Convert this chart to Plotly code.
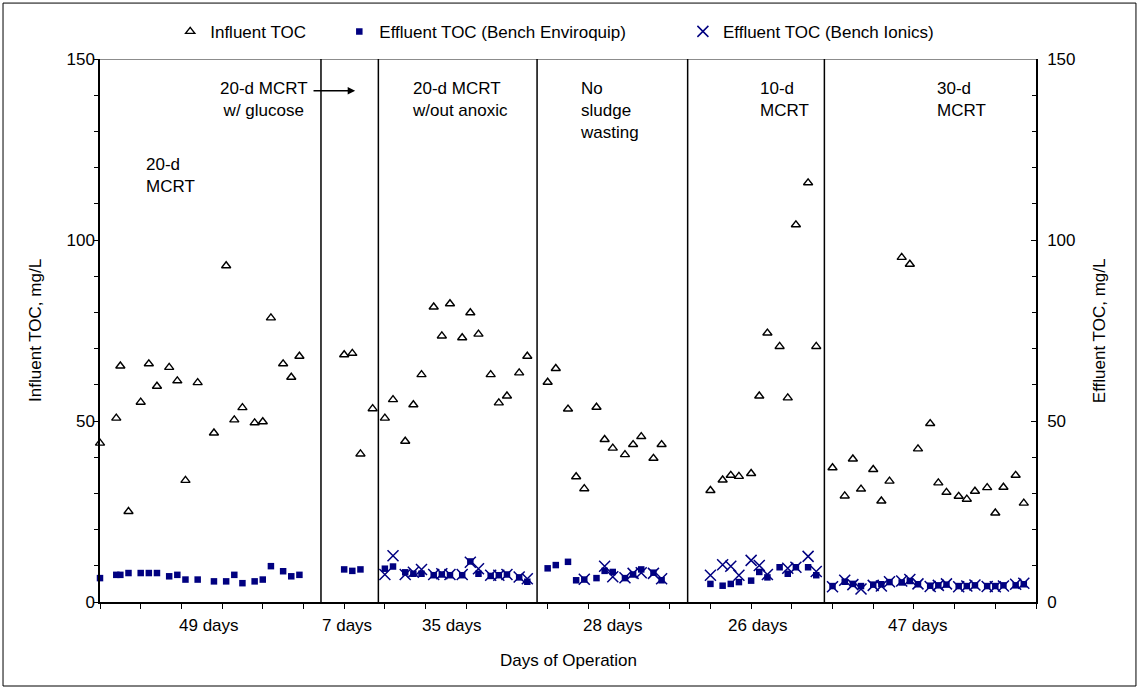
import plotly.graph_objects as go

# Sampling day of each measurement
days = [0, 4, 5, 7, 10, 12, 14, 17, 19, 21, 24, 28, 31, 33, 35, 38, 40, 42, 45, 47, 49,
        60, 62, 64, 67,
        70, 72, 75, 77, 79, 82, 84, 86, 89, 91, 93, 96, 98, 100, 103, 105,
        110, 112, 115, 117, 119, 122, 124, 126, 129, 131, 133, 136, 138,
        150, 153, 155, 157, 160, 162, 164, 167, 169, 171, 174, 176,
        180, 183, 185, 187, 190, 192, 194, 197, 199, 201, 204, 206, 208, 211, 213, 215,
        218, 220, 222, 225, 227]

# Influent TOC, mg/L
influent_toc = [43.9, 50.8, 65.2, 25.0, 55.2, 65.8, 59.6, 64.8, 61.1, 33.6, 60.6, 46.7, 92.9,
                50.3, 53.7, 49.5, 49.8, 78.5, 65.8, 62.1, 67.9,
                68.3, 68.7, 40.9, 53.4,
                50.8, 55.9, 44.4, 54.5, 62.8, 81.5, 73.5, 82.4, 73.0, 79.9, 74.0, 62.8, 55.0,
                56.9, 63.3, 67.9,
                60.7, 64.5, 53.3, 34.6, 31.3, 53.8, 44.9, 42.5, 40.7, 43.5, 45.7, 39.7, 43.5,
                30.8, 33.7, 35.0, 34.7, 35.5, 56.9, 74.3, 70.6, 56.4, 104.2, 115.8, 70.6,
                37.1, 29.3, 39.5, 31.2, 36.6, 27.9, 33.4, 95.2, 93.3, 42.3, 49.3, 32.9, 30.3,
                29.2, 28.4, 30.6, 31.6, 24.6, 31.7, 35.0, 27.3]

# Effluent TOC, Bench Enviroquip, mg/L
enviroquip_toc = [6.6, 7.5, 7.5, 8.0, 8.0, 8.0, 8.0, 7.1, 7.5, 6.2, 6.2, 5.7, 5.7, 7.5, 5.2,
                  5.7, 6.2, 9.9, 8.5, 7.1, 7.5,
                  9.0, 8.6, 9.0, None,
                  9.2, 9.8, 8.2, 7.8, 7.8, 7.4, 7.6, 7.4, 7.4, 11.2, 7.8, 7.2, 7.4, 7.6, 6.8, 5.6,
                  9.3, 10.2, 11.1, 6.0, 6.2, 6.6, 8.6, 8.3, 6.6, 7.6, 9.0, 8.1, 6.0,
                  5.0, 4.5, 5.0, 5.5, 5.9, 8.3, 6.8, 9.6, 7.8, 9.6, 9.6, 7.4,
                  4.4, 5.6, 5.0, 4.4, 4.8, 4.9, 5.5, 5.4, 5.8, 4.9, 4.5, 4.6, 4.8, 4.4, 4.4,
                  4.6, 4.4, 4.4, 4.6, 4.6, 4.9]

# Effluent TOC, Bench Ionics, mg/L
ionics_toc = [None] * 21 + [None] * 4 + [
    7.6, 12.8, 7.6, 8.2, 9.0, 7.6, 7.8, 7.6, 7.6, 11.0, 9.2, 7.4, 7.4, 7.6, 6.9, 6.4,
    None, None, None, None, 6.3, None, 9.9, 7.0, 6.7, 7.9, 8.1, 7.9, 6.4,
    7.4, 10.3, 9.9, 7.4, 11.5, 10.1, 7.6, None, 9.3, 9.6, 12.6, 8.4,
    4.2, 6.0, 4.8, 3.6, 4.6, 4.4, 5.6, 5.8, 6.2, 5.0, 4.3, 4.6, 5.0, 4.2, 4.4, 4.7,
    4.3, 4.2, 4.4, 4.9, 5.2]

# Boundaries between operating phases (day)
phase_bounds = [54.3, 68.4, 107.4, 144.4, 178.0]

# Phase descriptions: (text, x, top y, anchor)
phase_notes = [
    ("20-d<br>MCRT", 10.8, 124.0, "left"),
    ("20-d MCRT<br>w/ glucose", 40.3, 145.0, "center"),
    ("20-d MCRT<br>w/out anoxic", 76.2, 145.0, "left"),
    ("No<br>sludge<br>wasting", 117.5, 145.0, "left"),
    ("10-d<br>MCRT", 161.6, 145.0, "left"),
    ("30-d<br>MCRT", 205.3, 145.0, "left"),
]

# Phase durations written below the axis
duration_labels = ["49 days", "7 days", "35 days", "28 days", "26 days", "47 days"]
duration_x = [26.8, 60.7, 86.5, 126.0, 161.7, 201.0]

FONT = "Liberation Sans, Arial, sans-serif"
NAVY = "#000080"
X_MAX = 230
Y_MAX = 150
NBSP = "\u00a0"

fig = go.Figure()

fig.add_trace(go.Scatter(
    x=days, y=influent_toc, mode="markers", name="Influent TOC" + NBSP * 6,
    marker=dict(symbol="triangle-up-open", size=8, color="black", line=dict(width=1.4, color="black")),
    cliponaxis=False,
))
fig.add_trace(go.Scatter(
    x=days, y=enviroquip_toc, mode="markers", name="Effluent TOC (Bench Enviroquip)" + NBSP * 11,
    marker=dict(symbol="square", size=6.5, color=NAVY),
    yaxis="y2", cliponaxis=False,
))
fig.add_trace(go.Scatter(
    x=days, y=ionics_toc, mode="markers", name="Effluent TOC (Bench Ionics)",
    marker=dict(symbol="x-thin-open", size=11, color=NAVY, line=dict(width=1.5, color=NAVY)),
    yaxis="y2", cliponaxis=False,
))

shapes = []
# gray top edge of plot area
shapes.append(dict(type="line", xref="x", yref="y", x0=0, x1=X_MAX, y0=Y_MAX, y1=Y_MAX,
                   line=dict(color="#8c8c8c", width=2)))
# phase separators
for b in phase_bounds:
    shapes.append(dict(type="line", xref="x", yref="y", x0=b, x1=b, y0=0, y1=Y_MAX,
                       line=dict(color="black", width=1.5)))
# outer frame around the whole chart
shapes.append(dict(type="rect", xref="paper", yref="paper",
                   x0=-0.1036, x1=1.1068, y0=-0.1547, y1=1.103,
                   line=dict(color="black", width=1)))

annotations = []
for text, x, y, anchor in phase_notes:
    annotations.append(dict(text=text, x=x, y=y, xref="x", yref="y", xanchor=anchor,
                            yanchor="top", align=anchor,
                            showarrow=False, font=dict(family=FONT, size=17, color="black")))
# arrow pointing into the glucose phase
annotations.append(dict(x=62.7, y=141.2, ax=52.1, ay=141.2, xref="x", yref="y",
                        axref="x", ayref="y", text="", showarrow=True, arrowhead=2,
                        arrowsize=1, arrowwidth=1.5, arrowcolor="black"))
for lbl, x in zip(duration_labels, duration_x):
    annotations.append(dict(text=lbl, x=x, y=-0.0424, xref="x", yref="paper",
                            xanchor="center", yanchor="middle", showarrow=False,
                            font=dict(family=FONT, size=17, color="black")))
annotations.append(dict(text="Days of Operation", x=0.5, y=-0.107, xref="paper", yref="paper",
                        xanchor="center", yanchor="middle", showarrow=False,
                        font=dict(family=FONT, size=17, color="black")))
annotations.append(dict(text="Influent TOC, mg/L", x=-0.069, y=0.5, xref="paper", yref="paper",
                        textangle=-90, xanchor="center", yanchor="middle", showarrow=False,
                        font=dict(family=FONT, size=17, color="black")))
annotations.append(dict(text="Effluent TOC, mg/L", x=1.068, y=0.5, xref="paper", yref="paper",
                        textangle=-90, xanchor="center", yanchor="middle", showarrow=False,
                        font=dict(family=FONT, size=17, color="black")))

axis_font = dict(family=FONT, size=17, color="black")

fig.update_layout(
    width=1139, height=689,
    margin=dict(l=100, r=103, t=59, b=87, autoexpand=False),
    paper_bgcolor="white", plot_bgcolor="white",
    font=dict(family=FONT, size=17, color="black"),
    showlegend=True,
    legend=dict(orientation="h", x=0.075, y=1.05, xanchor="left", yanchor="middle",
                font=dict(family=FONT, size=17, color="black"), bgcolor="rgba(0,0,0,0)",
                itemsizing="trace"),
    xaxis=dict(range=[0, X_MAX], tickvals=list(range(0, X_MAX + 1, 10)), showticklabels=False,
               ticks="outside", ticklen=5, tickcolor="black", showline=True, linecolor="black",
               linewidth=1.5, showgrid=False, zeroline=False),
    yaxis=dict(range=[0, Y_MAX], tickvals=[0, 50, 100, 150], ticks="outside", ticklen=4,
               tickcolor="black", showline=True, linecolor="black", linewidth=1.5,
               showgrid=False, zeroline=False, tickfont=axis_font, ticklabelstandoff=-4,
               minor=dict(dtick=10, ticks="outside", ticklen=4, tickcolor="black", showgrid=False)),
    yaxis2=dict(range=[0, Y_MAX], tickvals=[0, 50, 100, 150], overlaying="y", side="right",
                ticks="inside", ticklen=5, tickcolor="black", showline=True, linecolor="black",
                linewidth=1.5, showgrid=False, zeroline=False, tickfont=axis_font,
                ticklabelstandoff=6,
                minor=dict(dtick=10, ticks="inside", ticklen=4, tickcolor="black", showgrid=False)),
    shapes=shapes,
    annotations=annotations,
)

fig.write_html("out.html")
